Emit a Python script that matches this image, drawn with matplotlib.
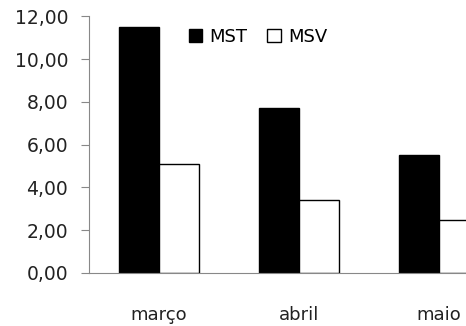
import numpy as np
import matplotlib.pyplot as plt

meses = ["março", "abril", "maio"]
mst = [11.5, 7.7, 5.5]
msv = [5.1, 3.4, 2.46]

plt.rcParams["font.family"] = ["DejaVu Sans"]

fig = plt.figure(figsize=(4.66, 3.26), dpi=100)
ax = fig.add_axes([0.191, 0.1626, 0.901, 0.787])

x = np.arange(len(meses))
w = 0.2857
ax.bar(x - w / 2, mst, w, color="black", edgecolor="black", linewidth=1, label="MST")
ax.bar(x + w / 2, msv, w, color="white", edgecolor="black", linewidth=1, label="MSV")

ax.set_xlim(-0.5, 2.5)
ax.set_ylim(0, 12)
ax.set_yticks(np.arange(0, 12.01, 2))
ax.set_yticklabels([f"{v:.2f}".replace(".", ",") for v in np.arange(0, 12.01, 2)])
ax.set_xticks(x)
ax.set_xticklabels(meses)

for s in ["top", "right"]:
    ax.spines[s].set_visible(False)
for s in ["left", "bottom"]:
    ax.spines[s].set_color("#888888")
ax.tick_params(axis="y", colors="#888888", labelcolor="#222222", length=6, labelsize=13.5, pad=9)
ax.tick_params(axis="x", length=0, labelsize=13, labelcolor="#222222", pad=24)

ax.legend(loc="upper left", bbox_to_anchor=(0.216, 0.99), ncol=2, frameon=False,
          fontsize=13, handlelength=0.75, handleheight=0.75, handletextpad=0.4,
          columnspacing=1.1, borderpad=0)

fig.savefig("out.png", dpi=100)
